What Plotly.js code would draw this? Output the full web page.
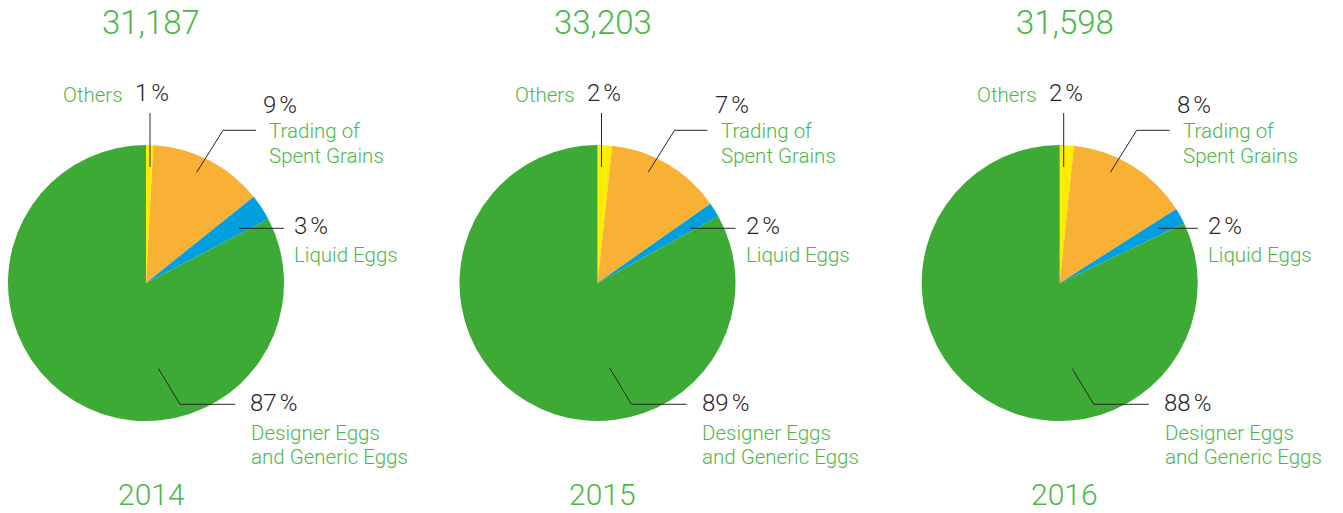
<!DOCTYPE html>
<html>
<head>
<meta charset="utf-8">
<script src="https://cdn.plot.ly/plotly-3.0.1.min.js"></script>
<style>html,body{margin:0;padding:0;background:#fff;}#chart{width:1343px;height:513px;}</style>
</head>
<body>
<div id="chart"></div>
<script>
// ---- data ----
const years = ['2014', '2015', '2016'];
const totals = ['31,187', '33,203', '31,598'];
const categories = ['Others', 'Trading of Spent Grains', 'Liquid Eggs', 'Designer Eggs and Generic Eggs'];
const categoryLabels = ['Others', 'Trading of<br>Spent Grains', 'Liquid Eggs', 'Designer Eggs<br>and Generic Eggs'];
// slice shares as drawn in the reference (per year)
const othersShare   = [0.84, 1.7, 1.65];
const tradingShare  = [13.4, 13.55, 14.35];
const liquidShare   = [3.1, 1.72, 1.9];
const designerShare = [82.66, 83.03, 82.1];
// percentages printed on the labels
const othersPct   = [1, 2, 2];
const tradingPct  = [9, 7, 8];
const liquidPct   = [3, 2, 2];
const designerPct = [87, 89, 88];

// ---- styling / layout ----
const W = 1343, H = 513;
const sliceColors = ['#ffec00', '#f8b134', '#009fe0', '#3daa35'];
const GREEN_TEXT = '#4cb748';
const DARK = '#2a2627';
const FONT = 'Roboto, "Open Sans", sans-serif';
const centersX = [146, 597.5, 1059.7];
const CY = 283, R = 138;
const LINE_GAP = 24.6;
const px = x => x / W;
const py = y => 1 - y / H;

const traces = [];
const annotations = [];
const shapes = [];

function ann(x, y, text, size, color, xanchor) {
  annotations.push({
    xref: 'paper', yref: 'paper', x: px(x), y: py(y), text: text,
    showarrow: false, xanchor: xanchor, yanchor: 'middle', align: 'left',
    borderpad: 0,
    font: {family: FONT, size: size, color: color, weight: 300}
  });
}
function annLines(x, y, text, size, color, xanchor) {
  text.split('<br>').forEach((t, k) => ann(x, y + k * LINE_GAP, t, size, color, xanchor));
}
function pct(v) {
  const s = String(v);
  return s.slice(0, -1) + '<span style="letter-spacing:3px">' + s.slice(-1) + '</span>%';
}
function seg(x0, y0, x1, y1) {
  shapes.push({type: 'line', xref: 'paper', yref: 'paper',
    x0: px(x0), y0: py(y0), x1: px(x1), y1: py(y1),
    line: {color: DARK, width: 1}});
}

years.forEach((yr, i) => {
  const cx = centersX[i];
  traces.push({
    type: 'pie',
    values: [othersShare[i], tradingShare[i], liquidShare[i], designerShare[i]],
    labels: categories,
    sort: false, direction: 'clockwise', rotation: 0,
    marker: {colors: sliceColors, line: {width: 0}},
    textinfo: 'none', hoverinfo: 'skip', showlegend: false,
    domain: {x: [px(cx - R), px(cx + R)], y: [py(CY + R), py(CY - R)]}
  });
  // totals and years
  ann(cx + 5, 23, totals[i], 33, GREEN_TEXT, 'center');
  ann(cx + 5, 494, yr, 30, GREEN_TEXT, 'center');
  // Others
  ann(cx - 22, 95.5, categoryLabels[0], 20.5, GREEN_TEXT, 'right');
  ann(cx - 12, 93, pct(othersPct[i]), 24, DARK, 'left');
  seg(cx + 4, 113, cx + 4, 167);
  // Trading of spent grains
  ann(cx + 116, 104.5, pct(tradingPct[i]), 24, DARK, 'left');
  annLines(cx + 122, 131, categoryLabels[1], 20.5, GREEN_TEXT, 'left');
  seg(cx + 50.7, 172.3, cx + 77, 130.3);
  seg(cx + 77, 130.3, cx + 110, 130.3);
  // Liquid eggs
  ann(cx + 147, 226, pct(liquidPct[i]), 24, DARK, 'left');
  annLines(cx + 147, 254.5, categoryLabels[2], 20.5, GREEN_TEXT, 'left');
  seg(cx + (i === 2 ? 99 : 93), 228.3, cx + 138, 228.3);
  // Designer eggs
  ann(cx + 103, 403, pct(designerPct[i]), 24, DARK, 'left');
  annLines(cx + 104, 432.5, categoryLabels[3], 20.5, GREEN_TEXT, 'left');
  seg(cx + 12.3, 368.3, cx + 34, 404.3);
  seg(cx + 34, 404.3, cx + 89, 404.3);
});

const layout = {
  width: W, height: H,
  margin: {l: 0, r: 0, t: 0, b: 0},
  paper_bgcolor: '#ffffff', plot_bgcolor: '#ffffff',
  showlegend: false,
  annotations: annotations,
  shapes: shapes,
  font: {family: FONT}
};
Plotly.newPlot('chart', traces, layout, {displayModeBar: false, staticPlot: true});
</script>
</body>
</html>
